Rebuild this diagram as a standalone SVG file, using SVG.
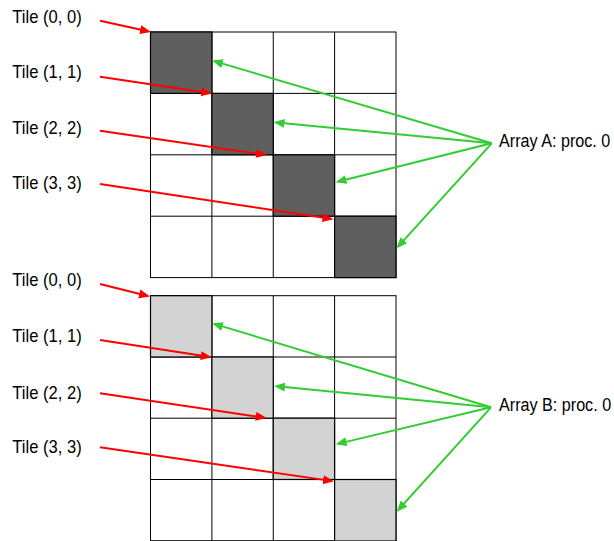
<svg xmlns="http://www.w3.org/2000/svg" width="614" height="541" viewBox="0 0 614 541">
  <style>
    .lbl { font-family: "Liberation Sans", Arial, sans-serif; font-size: 19px; fill: #000; }
    .grid { fill: none; stroke: #000; stroke-width: 1; }
    .cell { fill: #fff; stroke: #000; stroke-width: 1; }
    .dark { fill: #5f5f5f; stroke: #000; stroke-width: 1.2; }
    .light { fill: #d3d3d3; stroke: #000; stroke-width: 1.2; }
    .red { stroke: #ff0000; stroke-width: 2; fill: none; marker-end: url(#headRed); }
    .green { stroke: #33cc33; stroke-width: 2; fill: none; marker-end: url(#headGreen); }
  </style>
  <defs>
    <marker id="headRed" markerUnits="userSpaceOnUse" markerWidth="12" markerHeight="10" refX="8" refY="4.5" orient="auto">
      <path d="M0,0 L11,4.5 L0,9 z" fill="#ff0000"/>
    </marker>
    <marker id="headGreen" markerUnits="userSpaceOnUse" markerWidth="12" markerHeight="10" refX="8" refY="4.5" orient="auto">
      <path d="M0,0 L11,4.5 L0,9 z" fill="#33cc33"/>
    </marker>
  </defs>

  <rect width="614" height="541" fill="#fff"/>

  <!-- Array A: 4x4 tile grid, diagonal tiles shaded dark -->
  <g id="arrayA">
    <rect class="cell" x="150.5" y="32" width="245.5" height="245.6"/>
    <path class="grid" d="M211.9,32 V277.6 M273.25,32 V277.6 M334.6,32 V277.6 M150.5,93.4 H396 M150.5,154.8 H396 M150.5,216.2 H396"/>
    <rect id="a00" class="dark" x="150.5" y="32" width="61.4" height="61.4"/>
    <rect id="a11" class="dark" x="211.9" y="93.4" width="61.35" height="61.4"/>
    <rect id="a22" class="dark" x="273.25" y="154.8" width="61.35" height="61.4"/>
    <rect id="a33" class="dark" x="334.6" y="216.2" width="61.4" height="61.4"/>
  </g>

  <!-- Array B: 4x4 tile grid, diagonal tiles shaded light -->
  <g id="arrayB">
    <rect class="cell" x="150.5" y="295.7" width="245.5" height="245"/>
    <path class="grid" d="M211.9,295.7 V541 M273.25,295.7 V541 M334.6,295.7 V541 M150.5,357 H396 M150.5,418.2 H396 M150.5,479.5 H396"/>
    <rect id="b00" class="light" x="150.5" y="295.7" width="61.4" height="61.3"/>
    <rect id="b11" class="light" x="211.9" y="357" width="61.35" height="61.2"/>
    <rect id="b22" class="light" x="273.25" y="418.2" width="61.35" height="61.3"/>
    <rect id="b33" class="light" x="334.6" y="479.5" width="61.4" height="61.5"/>
  </g>

  <!-- labels (narrow face: glyphs squeezed horizontally) -->
  <g id="labelsA">
    <text class="lbl" x="12.3" y="22.7" textLength="69.4" lengthAdjust="spacingAndGlyphs">Tile (0, 0)</text>
    <text class="lbl" x="12.3" y="77.5" textLength="69.4" lengthAdjust="spacingAndGlyphs">Tile (1, 1)</text>
    <text class="lbl" x="12.3" y="134" textLength="69.4" lengthAdjust="spacingAndGlyphs">Tile (2, 2)</text>
    <text class="lbl" x="12.3" y="189.3" textLength="69.4" lengthAdjust="spacingAndGlyphs">Tile (3, 3)</text>
    <text class="lbl" transform="translate(499 146.8) scale(0.85 1)" x="0" y="0">Array A: proc. 0</text>
  </g>
  <g id="labelsB">
    <text class="lbl" x="12.3" y="286" textLength="69.4" lengthAdjust="spacingAndGlyphs">Tile (0, 0)</text>
    <text class="lbl" x="12.3" y="342" textLength="69.4" lengthAdjust="spacingAndGlyphs">Tile (1, 1)</text>
    <text class="lbl" x="12.3" y="399.3" textLength="69.4" lengthAdjust="spacingAndGlyphs">Tile (2, 2)</text>
    <text class="lbl" x="12.3" y="453.3" textLength="69.4" lengthAdjust="spacingAndGlyphs">Tile (3, 3)</text>
    <text class="lbl" transform="translate(499 410.5) scale(0.85 1)" x="0" y="0">Array B: proc. 0</text>
  </g>

  <!-- connectors -->
  <g id="connectors">
    <line class="red" x1="100" y1="20.7" x2="148.07" y2="31.35"/>
    <line class="red" x1="100" y1="76.7" x2="209.03" y2="93.06"/>
    <line class="red" x1="100" y1="130.7" x2="264.03" y2="154.57"/>
    <line class="red" x1="100" y1="184" x2="330.53" y2="218.85"/>

    <line class="red" x1="100" y1="284" x2="147.09" y2="295.77"/>
    <line class="red" x1="100" y1="340" x2="208.74" y2="356.84"/>
    <line class="red" x1="100" y1="393.3" x2="263.73" y2="417.56"/>
    <line class="red" x1="100" y1="447.3" x2="331.03" y2="480.87"/>

    <line class="green" x1="491.7" y1="143.3" x2="214.88" y2="61.35"/>
    <line class="green" x1="491.7" y1="143.3" x2="276.49" y2="122.59"/>
    <line class="green" x1="491.7" y1="143.3" x2="338.41" y2="181.47"/>
    <line class="green" x1="491.7" y1="143.3" x2="398.52" y2="246.08"/>

    <line class="green" x1="491" y1="407.3" x2="214.87" y2="324.16"/>
    <line class="green" x1="491" y1="407.3" x2="276.99" y2="386.29"/>
    <line class="green" x1="491" y1="407.3" x2="338.62" y2="443.6"/>
    <line class="green" x1="491" y1="407.3" x2="398.71" y2="509.47"/>
  </g>
</svg>
